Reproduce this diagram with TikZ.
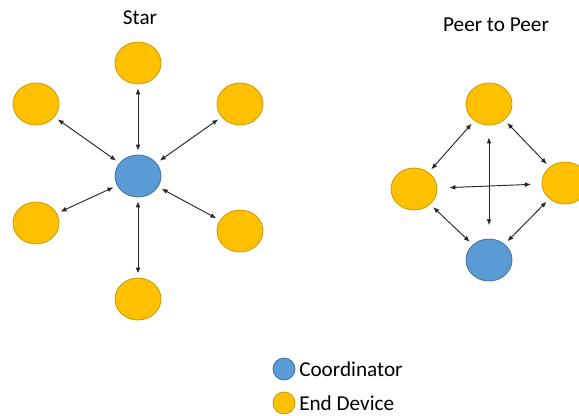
\documentclass[tikz,border=0pt]{standalone}
\usepackage{fontspec}
\setmainfont{Carlito}
\usepackage{tikz}
\usetikzlibrary{arrows.meta,shapes}

\definecolor{coordblue}{HTML}{5B9BD5}
\definecolor{coordedge}{HTML}{41719C}
\definecolor{devyellow}{HTML}{FFC000}
\definecolor{devedge}{HTML}{C99A00}

\begin{document}
\begin{tikzpicture}[x=0.75pt,y=-0.75pt]
            \tikzstyle{every node}+=[inner sep=0pt]
            \tikzstyle{enddev}=[ellipse, fill=devyellow, draw=devedge, line width=0.6pt, minimum width=34.5pt, minimum height=31.5pt]
            \tikzstyle{coord}=[ellipse, fill=coordblue, draw=coordedge, line width=0.6pt, minimum width=34.5pt, minimum height=31.5pt]
            \tikzstyle{link}=[{Latex[length=4.5pt,width=3.6pt]}-{Latex[length=4.5pt,width=3.6pt]}, black!85, line width=0.7pt, shorten <=3pt, shorten >=3pt]
            \tikzstyle{title}=[font=\fontsize{15.9}{19}\selectfont]
            \useasboundingbox (0,0) rectangle (579,415);
            % star
            \node [title] (startitle) at (140,18) {Star};
            \node [coord] (hub) at (138,176) {};
            \node [enddev] (st) at (138,63) {};
            \node [enddev] (sul) at (36,104) {};
            \node [enddev] (sur) at (240,104) {};
            \node [enddev] (sll) at (36,223) {};
            \node [enddev] (slr) at (240,231) {};
            \node [enddev] (sb) at (138,299) {};
            \draw [link] (hub) -- (st);
            \draw [link] (hub) -- (sul);
            \draw [link] (hub) -- (sur);
            \draw [link] (hub) -- (sll);
            \draw [link] (hub) -- (slr);
            \draw [link] (hub) -- (sb);
            % peer to peer
            \node [title] (p2ptitle) at (496,25) {Peer to Peer};
            \node [enddev] (pt) at (489,104) {};
            \node [enddev] (pl) at (414,189) {};
            \node [enddev] (pr) at (565,183) {};
            \node [coord] (pb) at (489,260) {};
            \draw [link] (pt) -- (pl);
            \draw [link] (pt) -- (pr);
            \draw [link] (pb) -- (pl);
            \draw [link] (pb) -- (pr);
            \draw [link, shorten <=9pt, shorten >=10pt] (pt) -- (pb);
            \draw [link, shorten <=9pt, shorten >=8pt] (pl) -- (pr);
            % legend
            \node [coord, minimum width=16.5pt, minimum height=16.5pt] (keycoord) at (284,369) {};
            \node [enddev, minimum width=16.5pt, minimum height=16.5pt] (keydev) at (284,403) {};
            \node [title, anchor=west] (keycoordtext) at (299,369) {Coordinator};
            \node [title, anchor=west] (keydevtext) at (299,403) {End Device};
\end{tikzpicture}
\end{document}
